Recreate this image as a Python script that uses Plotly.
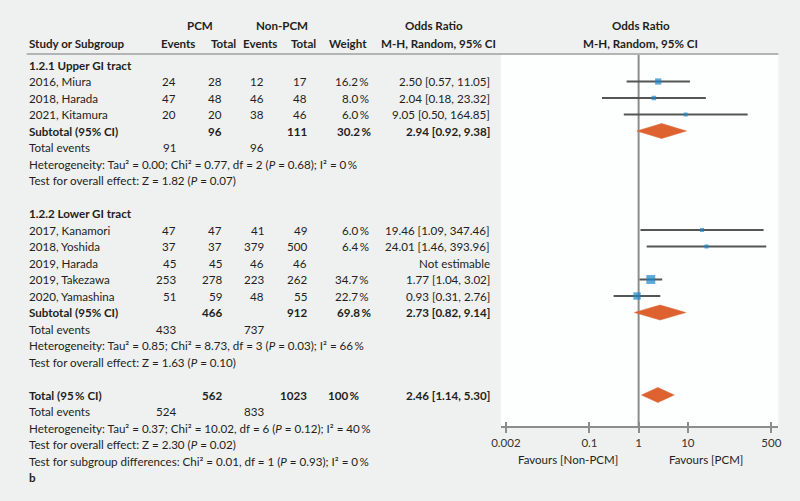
import plotly.graph_objects as go

# ---------------- data ----------------
upper_studies = ["2016, Miura", "2018, Harada", "2021, Kitamura"]
upper_pcm_events = [24, 47, 20]
upper_pcm_total = [28, 48, 20]
upper_non_events = [12, 46, 38]
upper_non_total = [17, 48, 46]
upper_weight = [16.2, 8.0, 6.0]
upper_or = [2.50, 2.04, 9.05]
upper_lo = [0.57, 0.18, 0.50]
upper_hi = [11.05, 23.32, 164.85]

lower_studies = ["2017, Kanamori", "2018, Yoshida", "2019, Harada", "2019, Takezawa", "2020, Yamashina"]
lower_pcm_events = [47, 37, 45, 253, 51]
lower_pcm_total = [47, 37, 45, 278, 59]
lower_non_events = [41, 379, 46, 223, 48]
lower_non_total = [49, 500, 46, 262, 55]
lower_weight = [6.0, 6.4, None, 34.7, 22.7]
lower_or = [19.46, 24.01, None, 1.77, 0.93]
lower_lo = [1.09, 1.46, None, 1.04, 0.31]
lower_hi = [347.46, 393.96, None, 3.02, 2.76]

subgroup_titles = ["1.2.1 Upper GI tract", "1.2.2 Lower GI tract"]
subgroup_pcm_total = [96, 466]
subgroup_non_total = [111, 912]
subgroup_weight = [30.2, 69.8]
subgroup_or = [2.94, 2.73]
subgroup_lo = [0.92, 0.82]
subgroup_hi = [9.38, 9.14]
subgroup_pcm_events = [91, 433]
subgroup_non_events = [96, 737]
subgroup_het = [
    "Heterogeneity: Tau² = 0.00; Chi² = 0.77, df = 2 (<i>P</i> = 0.68); I² = 0\u2009%",
    "Heterogeneity: Tau² = 0.85; Chi² = 8.73, df = 3 (<i>P</i> = 0.03); I² = 66\u2009%",
]
subgroup_effect = [
    "Test for overall effect: Z = 1.82 (<i>P</i> = 0.07)",
    "Test for overall effect: Z = 1.63 (<i>P</i> = 0.10)",
]

total_pcm_total = 562
total_non_total = 1023
total_weight = 100
total_or = 2.46
total_lo = 1.14
total_hi = 5.30
total_pcm_events = 524
total_non_events = 833
total_het = "Heterogeneity: Tau² = 0.37; Chi² = 10.02, df = 6 (<i>P</i> = 0.12); I² = 40\u2009%"
total_effect = "Test for overall effect: Z = 2.30 (<i>P</i> = 0.02)"
subgroup_diff = "Test for subgroup differences: Chi² = 0.01, df = 1 (<i>P</i> = 0.93); I² = 0\u2009%"

tick_vals = [0.002, 0.1, 1, 10, 500]
tick_text = ["0.002", "0.1", "1", "10", "500"]

# ---------------- layout constants ----------------
W, H = 800, 501
FONT = "Lato"
FS = 11.6
TXT = "#231f20"
BG = "#eff0f0"
BLUE = "#1a87cb"
ORANGE = "#dd6230"
LINE = "#555555"
GREY = "#8c8c8c"

COL_STUDY = 18
COL_PE = 170
COL_PT = 217
COL_NE = 259
COL_NT = 303
COL_W = 366
COL_OR = 489


def row_y(i):
    return 65 + 16.5 * i


annotations = []


def txt(x, y, s, anchor="left", bold=False, size=FS, color=TXT):
    if bold:
        s = "<b>" + s + "</b>"
    annotations.append(dict(x=x / W, y=y, xref="paper", yref="y", text=s, showarrow=False,
                            xanchor=anchor, yanchor="middle", align=anchor, borderpad=0,
                            font=dict(family=FONT, size=size, color=color)))


def fmt_or(o, lo, hi):
    return f"{o:.2f} [{lo:.2f}, {hi:.2f}]"


def fmt_w(w):
    return f"{w:.1f}\u2009%"


# headers
txt(193, 25, "PCM", "center", True)
txt(277, 25, "Non-PCM", "center", True)
txt(431, 25, "Odds Ratio", "center", True)
txt(641, 25, "Odds Ratio", "center", True)
txt(COL_STUDY, 43, "Study or Subgroup", "left", True)
txt(171, 43, "Events", "center", True)
txt(217, 43, "Total", "center", True)
txt(254, 43, "Events", "center", True)
txt(298, 43, "Total", "center", True)
txt(344, 43, "Weight", "center", True)
txt(436, 43, "M-H, Random, 95% CI", "center", True)
txt(641, 43, "M-H, Random, 95% CI", "center", True)

# rows
study_rows = []  # (y, or, lo, hi, weight)
diamond_rows = []  # (y, or, lo, hi)

groups = [
    (upper_studies, upper_pcm_events, upper_pcm_total, upper_non_events, upper_non_total,
     upper_weight, upper_or, upper_lo, upper_hi),
    (lower_studies, lower_pcm_events, lower_pcm_total, lower_non_events, lower_non_total,
     lower_weight, lower_or, lower_lo, lower_hi),
]
r = 0
for g, (names, pe, pt, ne, nt, wt, orr, lo, hi) in enumerate(groups):
    txt(COL_STUDY, row_y(r), subgroup_titles[g], "left", True)
    r += 1
    for k in range(len(names)):
        y = row_y(r)
        txt(COL_STUDY, y, names[k])
        txt(COL_PE, y, str(pe[k]), "right")
        txt(COL_PT, y, str(pt[k]), "right")
        txt(COL_NE, y, str(ne[k]), "right")
        txt(COL_NT, y, str(nt[k]), "right")
        if orr[k] is None:
            txt(COL_OR, y, "Not estimable", "right")
        else:
            txt(COL_W, y, fmt_w(wt[k]), "right")
            txt(COL_OR, y, fmt_or(orr[k], lo[k], hi[k]), "right")
            study_rows.append((y, orr[k], lo[k], hi[k], wt[k]))
        r += 1
    y = row_y(r)
    txt(COL_STUDY, y, "Subtotal (95% CI)", "left", True)
    txt(COL_PT, y, str(subgroup_pcm_total[g]), "right", True)
    txt(COL_NT, y, str(subgroup_non_total[g]), "right", True)
    txt(COL_W + 2, y, fmt_w(subgroup_weight[g]), "right", True)
    txt(COL_OR, y, fmt_or(subgroup_or[g], subgroup_lo[g], subgroup_hi[g]), "right", True)
    diamond_rows.append((y, subgroup_or[g], subgroup_lo[g], subgroup_hi[g]))
    r += 1
    y = row_y(r)
    txt(COL_STUDY, y, "Total events")
    txt(COL_PE, y, str(subgroup_pcm_events[g]), "right")
    txt(COL_NE, y, str(subgroup_non_events[g]), "right")
    r += 1
    txt(COL_STUDY, row_y(r), subgroup_het[g])
    r += 1
    txt(COL_STUDY, row_y(r), subgroup_effect[g])
    r += 2

y = row_y(r)
txt(COL_STUDY, y, "Total (95\u2009% CI)", "left", True)
txt(COL_PT, y, str(total_pcm_total), "right", True)
txt(COL_NT, y, str(total_non_total), "right", True)
txt(357, y, f"{total_weight}\u2009%", "right", True)
txt(COL_OR, y, fmt_or(total_or, total_lo, total_hi), "right", True)
diamond_rows.append((y, total_or, total_lo, total_hi))
r += 1
y = row_y(r)
txt(COL_STUDY, y, "Total events")
txt(COL_PE, y, str(total_pcm_events), "right")
txt(COL_NE, y, str(total_non_events), "right")
r += 1
txt(COL_STUDY, row_y(r), total_het)
r += 1
txt(COL_STUDY, row_y(r), total_effect)
r += 1
txt(COL_STUDY, row_y(r), subgroup_diff)
r += 1
txt(COL_STUDY, row_y(r), "b", "left", True)

# axis labels
txt(567, 459, "Favours [Non-PCM]", "center", size=11.5)
txt(708, 459, "Favours [PCM]", "center", size=11.5)

fig = go.Figure()

# whiskers
wx, wy = [], []
for (y, o, lo, hi, w) in study_rows:
    wx += [lo, hi, None]
    wy += [y, y, None]
fig.add_trace(go.Scatter(x=wx, y=wy, mode="lines", line=dict(color=LINE, width=2),
                         hoverinfo="skip", showlegend=False))
# squares
fig.add_trace(go.Scatter(x=[s[1] for s in study_rows], y=[s[0] for s in study_rows],
                         mode="markers",
                         marker=dict(symbol="square", color=BLUE,
                                     size=[1.45 * s[4] ** 0.5 + 0.4 for s in study_rows],
                                     line=dict(width=0)),
                         showlegend=False))
# diamonds
for (y, o, lo, hi) in diamond_rows:
    fig.add_trace(go.Scatter(x=[lo, o, hi, o, lo], y=[y, y - 7.5, y, y + 7.5, y],
                             mode="lines", fill="toself", fillcolor=ORANGE,
                             line=dict(color=ORANGE, width=0.5), showlegend=False,
                             hoverinfo="skip"))

shapes = [
    dict(type="rect", xref="paper", yref="y", x0=499 / W, x1=781 / W, y0=55, y1=427,
         fillcolor="#fdfefe", line=dict(width=0), layer="below"),
    dict(type="line", xref="paper", yref="y", x0=17 / W, x1=781 / W, y0=54, y1=54,
         line=dict(color="#b4b4b4", width=2), layer="below"),
    dict(type="line", xref="x", yref="y", x0=1, x1=1, y0=55, y1=427,
         line=dict(color=GREY, width=2), layer="below"),
]

axis_pos = 1 - 427 / H
xdom = [499 / W, 781 / W]
xrange = [-2.8, 2.84]

fig.update_layout(
    width=W, height=H,
    margin=dict(l=0, r=0, t=0, b=0),
    paper_bgcolor=BG, plot_bgcolor="rgba(0,0,0,0)",
    showlegend=False,
    annotations=annotations,
    shapes=shapes,
    xaxis=dict(type="log", range=xrange, domain=xdom, anchor="free", position=axis_pos,
               tickvals=tick_vals, ticktext=tick_text, ticks="outside", ticklen=5,
               tickwidth=2, tickcolor=GREY, showline=True, linecolor=GREY, linewidth=2,
               showgrid=False, zeroline=False,
               tickfont=dict(family=FONT, size=11.5, color="#333333")),
    xaxis2=dict(type="log", range=xrange, domain=xdom, anchor="free", position=axis_pos,
                overlaying="x", tickvals=tick_vals, ticks="inside", ticklen=5, tickwidth=2,
                tickcolor=GREY, showticklabels=False, showline=False, showgrid=False,
                zeroline=False),
    yaxis=dict(range=[H, 0], domain=[0, 1], visible=False, showgrid=False, zeroline=False),
)
# invisible point so that the overlaid tick axis is drawn
fig.add_trace(go.Scatter(x=[1], y=[-100], xaxis="x2", mode="markers", marker=dict(opacity=0),
                         showlegend=False, hoverinfo="skip"))

fig.write_html("out.html", config={"displayModeBar": False},
               post_script="document.body.style.margin='0';document.body.style.overflow='hidden';")
